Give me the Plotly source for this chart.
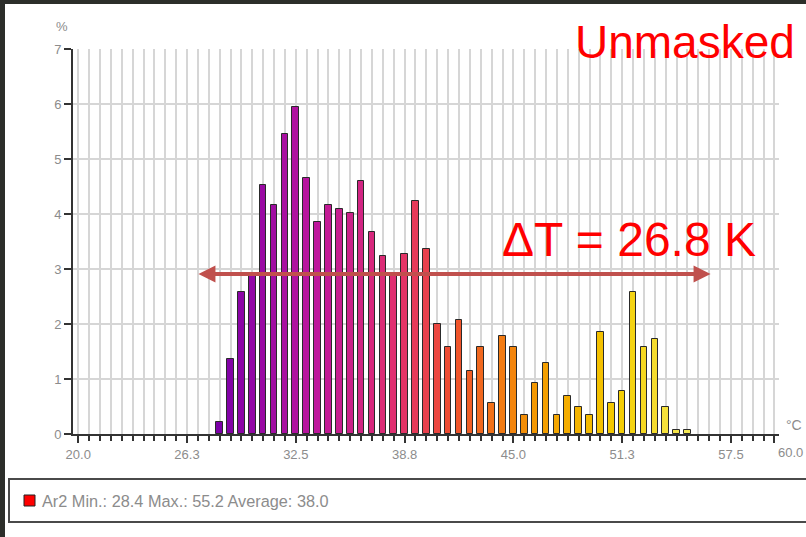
import plotly.graph_objects as go

# ---- data ----
bin_centers = [28.125 + 0.625 * i for i in range(44)]
percent = [0.22, 1.37, 2.58, 2.87, 4.52, 4.16, 5.46, 5.95, 4.66, 3.86,
           4.16, 4.09, 4.02, 4.60, 3.67, 3.23, 2.88, 3.28, 4.24, 3.36,
           2.00, 1.59, 2.08, 1.15, 1.59, 0.57, 1.78, 1.59, 0.35, 0.92,
           1.29, 0.35, 0.70, 0.49, 0.35, 1.86, 0.57, 0.79, 2.58, 1.59,
           1.72, 0.49, 0.07, 0.07]
tick_vals = [20.0, 26.25, 32.5, 38.75, 45.0, 51.25, 57.5, 60.0]
tick_text = ["20.0", "26.3", "32.5", "38.8", "45.0", "51.3", "57.5", ""]
y_ticks = [0, 1, 2, 3, 4, 5, 6, 7]
legend_text = "Ar2 Min.: 28.4 Max.: 55.2 Average: 38.0"
t_min, t_max = 26.82, 56.33
delta_label = "ΔT = 26.8 K"
corner_label = "Unmasked"

# ---- layout geometry ----
W, H = 806, 537
ML, MR, MT = 73, 27, 49
MB = H - 434
PW, PH = W - ML - MR, H - MT - MB


def px(xp):
    return (xp - ML) / PW


def py(yp):
    return (H - MB - yp) / PH


LABEL_FONT = "Liberation Sans Narrow, Arial Narrow, Liberation Sans, Arial, sans-serif"
GRAY = "#8c8c8c"
DARK = "#2c2e2a"

colorscale = [
    [0.0, "#7c00a8"], [0.2, "#bc169e"], [0.38, "#e2306e"],
    [0.5, "#f0502e"], [0.68, "#f49a00"], [0.85, "#f4cc00"], [1.0, "#f6ea55"],
]

fig = go.Figure()
fig.add_trace(go.Bar(
    x=bin_centers, y=percent, width=0.38,
    marker=dict(color=bin_centers, colorscale=colorscale,
                cmin=bin_centers[0], cmax=bin_centers[-1],
                line=dict(color="#2a2a2a", width=1)),
    showlegend=False, hoverinfo="x+y",
))

fig.update_layout(
    width=W, height=H,
    margin=dict(l=ML, r=MR, t=MT, b=MB),
    paper_bgcolor="white", plot_bgcolor="white",
    bargap=0,
    xaxis=dict(
        range=[19.7, 60.26], tickvals=tick_vals, ticktext=tick_text,
        ticks="outside", ticklen=7, tickwidth=2, tickcolor="#333",
        showline=True, linecolor="#333", linewidth=2,
        showgrid=True, gridcolor="#d6d6d6", gridwidth=2,
        tickfont=dict(family=LABEL_FONT, size=13, color=GRAY),
        minor=dict(tick0=20, dtick=0.625, ticks="outside", ticklen=5,
                   tickwidth=2, tickcolor="#333", showgrid=True,
                   gridcolor="#d6d6d6", gridwidth=2),
        zeroline=False, fixedrange=True,
    ),
    yaxis=dict(
        range=[0, 7], tickvals=y_ticks,
        ticks="outside", ticklen=7, tickwidth=2, tickcolor="#333",
        showline=True, linecolor="#333", linewidth=2,
        showgrid=True, gridcolor="#d6d6d6", gridwidth=2,
        tickfont=dict(family=LABEL_FONT, size=13, color=GRAY),
        zeroline=False, fixedrange=True,
    ),
)

shapes = [
    # dark slide border (left and top)
    dict(type="rect", xref="paper", yref="paper", x0=px(-2), x1=px(5),
         y0=py(H + 2), y1=py(-2), fillcolor=DARK, line=dict(width=0), layer="above"),
    dict(type="rect", xref="paper", yref="paper", x0=px(-2), x1=px(W + 2),
         y0=py(4), y1=py(-2), fillcolor=DARK, line=dict(width=0), layer="above"),
    # legend box
    dict(type="rect", xref="paper", yref="paper", x0=px(9), x1=px(820),
         y0=py(522), y1=py(479), fillcolor="white",
         line=dict(color="#4a4a4a", width=2)),
    # legend swatch
    dict(type="rect", xref="paper", yref="paper", x0=px(24), x1=px(35),
         y0=py(506), y1=py(495), fillcolor="#ff0000",
         line=dict(color="#222", width=1)),
]
fig.update_layout(shapes=shapes)

annotations = [
    dict(xref="paper", yref="paper", x=px(40), y=py(500.5), xanchor="left",
         yanchor="middle", text=legend_text, showarrow=False,
         font=dict(family=LABEL_FONT, size=16.3, color=GRAY)),
    dict(xref="paper", yref="paper", x=px(62), y=py(26), xanchor="center",
         yanchor="middle", text="%", showarrow=False,
         font=dict(family=LABEL_FONT, size=13, color=GRAY)),
    dict(xref="paper", yref="paper", x=px(794), y=py(425), xanchor="center",
         yanchor="middle", text="°C", showarrow=False,
         font=dict(family=LABEL_FONT, size=14, color=GRAY)),
    dict(xref="paper", yref="paper", x=px(776), y=py(452), xanchor="left",
         yanchor="middle", text="60.0", showarrow=False,
         font=dict(family=LABEL_FONT, size=13, color=GRAY)),
    # delta T arrow
    dict(x=t_max, y=2.91, ax=t_min, ay=2.91, xref="x", yref="y",
         axref="x", ayref="y", text="", showarrow=True,
         arrowside="end+start", arrowhead=2, arrowsize=0.85,
         arrowwidth=4, arrowcolor="#c0504d"),
    dict(xref="paper", yref="paper", x=px(500), y=py(239), xanchor="left",
         yanchor="middle", text=delta_label, showarrow=False,
         font=dict(family="Liberation Sans, Arial, sans-serif", size=48, color="#ff0000")),
    dict(xref="paper", yref="paper", x=px(797), y=py(42), xanchor="right",
         yanchor="middle", text=corner_label, showarrow=False,
         font=dict(family="Liberation Sans, Arial, sans-serif", size=46, color="#ff0000")),
]
fig.update_layout(annotations=annotations)

fig.write_html(
    "out.html",
    config={"displayModeBar": False},
    post_script="document.body.style.margin='0';",
)
